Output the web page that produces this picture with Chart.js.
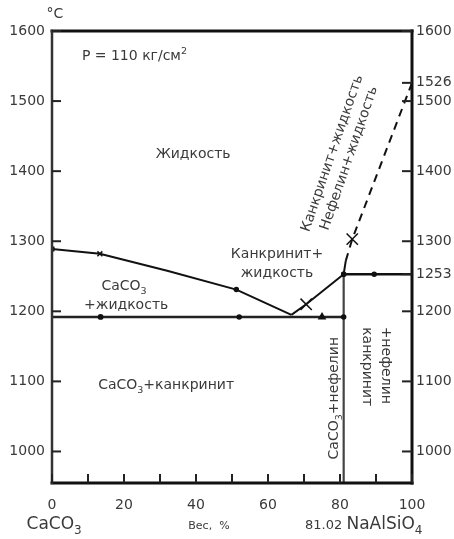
<!DOCTYPE html>
<html>
<head>
<meta charset="utf-8">
<script src="https://cdn.jsdelivr.net/npm/chart.js@4.4.1/dist/chart.umd.min.js"></script>
<style>
  html, body { margin: 0; padding: 0; background: #fff; }
  #wrap { width: 454px; height: 539px; }
</style>
</head>
<body>
<div id="wrap"><canvas id="c" width="454" height="539"></canvas></div>
<script>
// System CaCO3 – NaAlSiO4, composition in wt. %, temperature in °C

// liquidus of CaCO3 down to the eutectic
const liquidusCaX = [0, 13.3, 32, 51.2, 66.5];
const liquidusCaT = [1289, 1282, 1258, 1231, 1195];
// cancrinite + liquid boundary up to the peritectic
const cancriniteX = [66.5, 70.6, 81.02, 81.6];
const cancriniteT = [1195, 1210, 1253, 1272];
// nepheline liquidus (extrapolated, dashed)
const nephelineX = [81.6, 83.4, 100];
const nephelineT = [1272, 1303, 1526];
// solidus CaCO3 + cancrinite
const solidusX = [0, 13.5, 52, 75, 81.02];
const solidusT = [1192, 1192, 1192, 1192, 1192];
// peritectic horizontal
const peritecticX = [81.02, 89.5, 100];
const peritecticT = [1253, 1253, 1253];
// cancrinite composition line
const joinX = [81.02, 81.02];
const joinT = [1253, 955];

const tempMin = 955, tempMax = 1600;
const leftTicks = [1000, 1100, 1200, 1300, 1400, 1500, 1600];
const rightTicks = [1000, 1100, 1200, 1253, 1300, 1400, 1500, 1526, 1600];
const xLabelTicks = [0, 20, 40, 60, 80, 100];
const xMinorTicks = [0, 10, 20, 30, 40, 50, 60, 70, 80, 90, 100];

const FAMILY = '"DejaVu Sans", sans-serif';
const INK = '#111';
const TEXT = '#3a3a3a';

function pts(xs, ts) { return xs.map((x, i) => ({ x: x, y: ts[i] })); }

function series(xs, ts, extra) {
  return Object.assign({
    data: pts(xs, ts),
    showLine: true,
    borderColor: INK,
    backgroundColor: INK,
    pointBackgroundColor: INK,
    pointBorderColor: INK,
    borderWidth: 2,
    pointBorderWidth: 1.5,
    tension: 0
  }, extra);
}

// text with sub/superscripts; parts: [text, kind, size]
function rich(ctx, parts, x, y, size, align) {
  const items = parts.map(p => {
    const kind = p[1] || '';
    const sz = p[2] || (kind ? size * 0.68 : size);
    ctx.font = sz + 'px ' + FAMILY;
    return { t: p[0], kind: kind, sz: sz, w: ctx.measureText(p[0]).width };
  });
  const total = items.reduce((s, it) => s + it.w, 0);
  let sx = align === 'center' ? x - total / 2 : (align === 'right' ? x - total : x);
  ctx.textAlign = 'left';
  ctx.textBaseline = 'alphabetic';
  const base = y + size * 0.36;
  items.forEach(it => {
    ctx.font = it.sz + 'px ' + FAMILY;
    let yy = base;
    if (it.kind === 'sub') yy = base + size * 0.28;
    if (it.kind === 'sup') yy = base - size * 0.42;
    ctx.fillText(it.t, sx, yy);
    sx += it.w;
  });
}

// field labels, placed in data coordinates
const notes = [
  { t: [['P = 110 кг/см'], ['2', 'sup']], x: 8.3, y: 1566, align: 'left' },
  { t: [['Жидкость']], x: 39.2, y: 1426 },
  { t: [['CaCO'], ['3', 'sub']], x: 20, y: 1237 },
  { t: [['+жидкость']], x: 20.6, y: 1211 },
  { t: [['CaCO'], ['3', 'sub'], ['+канкринит']], x: 31.7, y: 1096 },
  { t: [['Канкринит+']], x: 62.5, y: 1283 },
  { t: [['жидкость']], x: 62.5, y: 1256 },
  { t: [['Канкринит+жидкость']], x: 77.5, y: 1426, rot: -71 },
  { t: [['Нефелин+жидкость']], x: 82.2, y: 1419, rot: -71 },
  { t: [['CaCO'], ['3', 'sub'], ['+нефелин']], x: 78, y: 1076, rot: -90 },
  { t: [['канкринит']], x: 87.8, y: 1121, rot: 90 },
  { t: [['+нефелин']], x: 93, y: 1123, rot: 90 }
];

const decor = {
  id: 'decor',
  afterDatasetsDraw(chart) {
    const ctx = chart.ctx;
    const a = chart.chartArea;
    const sx = chart.scales.x, sy = chart.scales.y;
    ctx.save();

    // frame
    ctx.strokeStyle = INK;
    ctx.lineCap = 'square';
    ctx.lineWidth = 3;
    ctx.beginPath(); ctx.moveTo(a.left, a.top); ctx.lineTo(a.right, a.top); ctx.stroke();
    ctx.beginPath(); ctx.moveTo(a.left, a.bottom); ctx.lineTo(a.right, a.bottom); ctx.stroke();
    ctx.beginPath(); ctx.moveTo(a.right, a.top); ctx.lineTo(a.right, a.bottom); ctx.stroke();
    ctx.strokeStyle = '#333';
    ctx.lineWidth = 2.5;
    ctx.beginPath(); ctx.moveTo(a.left, a.top); ctx.lineTo(a.left, a.bottom); ctx.stroke();

    // inward tick marks
    ctx.lineCap = 'butt';
    ctx.lineWidth = 2;
    ctx.strokeStyle = '#222';
    leftTicks.forEach(v => {
      const y = sy.getPixelForValue(v);
      ctx.beginPath(); ctx.moveTo(a.left, y); ctx.lineTo(a.left + 9, y); ctx.stroke();
    });
    rightTicks.forEach(v => {
      const y = sy.getPixelForValue(v);
      ctx.beginPath(); ctx.moveTo(a.right, y); ctx.lineTo(a.right - 10, y); ctx.stroke();
    });
    xMinorTicks.forEach(v => {
      const x = sx.getPixelForValue(v);
      ctx.beginPath(); ctx.moveTo(x, a.bottom); ctx.lineTo(x, a.bottom - 9); ctx.stroke();
    });

    // labels inside the diagram
    ctx.fillStyle = TEXT;
    notes.forEach(n => {
      const px = sx.getPixelForValue(n.x), py = sy.getPixelForValue(n.y);
      if (n.rot) {
        ctx.save();
        ctx.translate(px, py);
        ctx.rotate(n.rot * Math.PI / 180);
        rich(ctx, n.t, 0, 0, 14, 'center');
        ctx.restore();
      } else {
        rich(ctx, n.t, px, py, 14, n.align || 'center');
      }
    });

    // unit above the temperature axis
    rich(ctx, [['°C']], a.left + 3, a.top - 18, 14, 'center');

    // component names under the composition axis
    rich(ctx, [['CaCO', '', 17], ['3', 'sub', 12]], sx.getPixelForValue(0.6), a.bottom + 40, 17, 'center');
    rich(ctx, [['Вес,  %', '', 11]], sx.getPixelForValue(43.6), a.bottom + 42, 11, 'center');
    rich(ctx, [['81.02 ', '', 13], ['NaAlSiO', '', 17], ['4', 'sub', 12]], sx.getPixelForValue(70.3), a.bottom + 40, 17, 'left');

    ctx.restore();
  }
};

const tickFont = { family: FAMILY, size: 14 };
const plain = v => String(v);

new Chart(document.getElementById('c'), {
  type: 'scatter',
  data: {
    datasets: [
      series(liquidusCaX, liquidusCaT, {
        pointStyle: ['rect', 'crossRot', 'circle', 'circle', 'circle'],
        pointRadius: [2.5, 3.5, 0, 2, 0]
      }),
      series(cancriniteX, cancriniteT, {
        pointStyle: ['circle', 'crossRot', 'circle', 'circle'],
        pointRadius: [0, 8, 2, 0]
      }),
      series(nephelineX, nephelineT, {
        borderDash: [8, 6],
        pointStyle: ['circle', 'crossRot', 'circle'],
        pointRadius: [0, 8, 0]
      }),
      series(solidusX, solidusT, {
        borderWidth: 2.5,
        borderColor: '#222',
        pointStyle: ['circle', 'circle', 'circle', 'triangle', 'circle'],
        pointRadius: [0, 2.2, 2, 3.5, 2]
      }),
      series(peritecticX, peritecticT, {
        borderWidth: 2.5,
        pointRadius: [2, 2, 0]
      }),
      series(joinX, joinT, {
        borderColor: '#444',
        borderWidth: 2.2,
        pointRadius: 0
      })
    ]
  },
  options: {
    responsive: false,
    devicePixelRatio: 1,
    animation: false,
    events: [],
    layout: { padding: { top: 31, left: 0, right: 0, bottom: 0 }, autoPadding: false },
    plugins: { legend: { display: false }, tooltip: { enabled: false } },
    scales: {
      x: {
        type: 'linear', position: 'bottom', min: 0, max: 100,
        afterBuildTicks: s => { s.ticks = xLabelTicks.map(v => ({ value: v })); },
        afterFit: s => { s.height = 56; },
        grid: { display: false, drawTicks: false },
        border: { display: false },
        ticks: { font: tickFont, color: TEXT, padding: 14, maxRotation: 0, autoSkip: false, callback: plain }
      },
      y: {
        type: 'linear', position: 'left', min: tempMin, max: tempMax,
        afterBuildTicks: s => { s.ticks = leftTicks.map(v => ({ value: v })); },
        afterFit: s => { s.width = 52; },
        grid: { display: false, drawTicks: false },
        border: { display: false },
        ticks: { font: tickFont, color: TEXT, padding: 7, autoSkip: false, callback: plain }
      },
      y2: {
        type: 'linear', position: 'right', min: tempMin, max: tempMax,
        afterBuildTicks: s => { s.ticks = rightTicks.map(v => ({ value: v })); },
        afterFit: s => { s.width = 42; },
        grid: { display: false, drawTicks: false },
        border: { display: false },
        ticks: { font: tickFont, color: TEXT, padding: 4, autoSkip: false, callback: plain }
      }
    }
  },
  plugins: [decor]
});
</script>
</body>
</html>
